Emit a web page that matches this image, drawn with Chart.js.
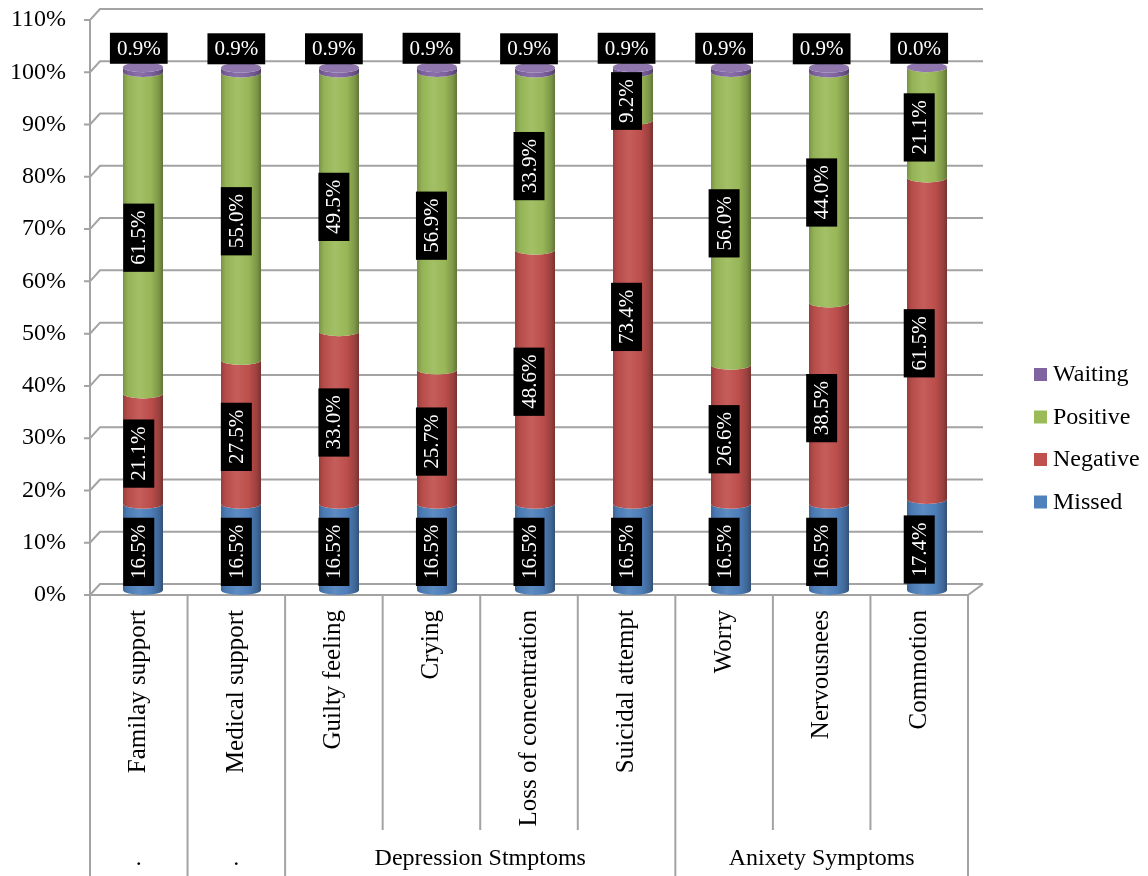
<!DOCTYPE html>
<html>
<head>
<meta charset="utf-8">
<script src="https://cdn.jsdelivr.net/npm/chart.js@4.4.1/dist/chart.umd.min.js"></script>
<style>
  html, body { margin: 0; padding: 0; background: #fff; }
</style>
</head>
<body>
<canvas id="chart" width="1148" height="876"></canvas>
<script>
const categories = ["Familay support", "Medical support", "Guilty feeling", "Crying",
  "Loss of concentration", "Suicidal attempt", "Worry", "Nervousnees", "Commotion"];
const groupLabels = [".", ".", "Depression Stmptoms", "Anixety Symptoms"];
const groupSpans = [1, 1, 4, 3];

const missed = [16.5, 16.5, 16.5, 16.5, 16.5, 16.5, 16.5, 16.5, 17.4];
const negative = [21.1, 27.5, 33.0, 25.7, 48.6, 73.4, 26.6, 38.5, 61.5];
const positive = [61.5, 55.0, 49.5, 56.9, 33.9, 9.2, 56.0, 44.0, 21.1];
const waiting = [0.9, 0.9, 0.9, 0.9, 0.9, 0.9, 0.9, 0.9, 0.0];

const seriesNames = ["Missed", "Negative", "Positive", "Waiting"];
const seriesColors = ["#4F81BD", "#C0504D", "#9BBB59", "#8064A2"];

const SERIF = "'Liberation Serif', 'Times New Roman', serif";
const LINE = "#a3a3a3";

function shade(hex, amt) {
  let r = parseInt(hex.slice(1, 3), 16);
  let g = parseInt(hex.slice(3, 5), 16);
  let b = parseInt(hex.slice(5, 7), 16);
  const f = c => amt < 0 ? Math.round(c * (1 + amt)) : Math.round(c + (255 - c) * amt);
  return "rgb(" + f(r) + "," + f(g) + "," + f(b) + ")";
}

function cylGradient(ctx, x, rx, hex) {
  const g = ctx.createLinearGradient(x - rx, 0, x + rx, 0);
  g.addColorStop(0, shade(hex, -0.22));
  g.addColorStop(0.12, shade(hex, -0.05));
  g.addColorStop(0.4, shade(hex, 0.08));
  g.addColorStop(0.7, shade(hex, -0.02));
  g.addColorStop(0.9, shade(hex, -0.2));
  g.addColorStop(1, shade(hex, -0.38));
  return g;
}

// back wall, floor and the table under the x axis
const wallPlugin = {
  id: "wall",
  beforeDatasetsDraw(chart) {
    const ctx = chart.ctx;
    const a = chart.chartArea;
    const y = chart.scales.y;
    const x = chart.scales.x;
    const backL = a.left + 10, backR = a.right + 15, dy = -11;
    ctx.save();
    ctx.strokeStyle = LINE;
    ctx.lineWidth = 2;
    y.ticks.forEach(t => {
      const py = y.getPixelForValue(t.value);
      ctx.beginPath();
      ctx.moveTo(a.left - 6, py);
      ctx.lineTo(a.left, py);
      ctx.lineTo(backL, py + dy);
      ctx.lineTo(backR, py + dy);
      ctx.stroke();
    });
    // floor
    ctx.beginPath();
    ctx.moveTo(a.left, a.bottom);
    ctx.lineTo(a.right, a.bottom);
    ctx.lineTo(backR, a.bottom + dy);
    ctx.stroke();
    // front left edge + table lines
    ctx.beginPath();
    ctx.moveTo(a.left, a.top);
    ctx.lineTo(a.left, chart.height);
    ctx.stroke();
    const catW = (a.right - a.left) / categories.length;
    const groupEdges = [0];
    groupSpans.forEach(s => groupEdges.push(groupEdges[groupEdges.length - 1] + s));
    for (let k = 1; k <= categories.length; k++) {
      const px = a.left + k * catW;
      const full = groupEdges.includes(k);
      ctx.beginPath();
      ctx.moveTo(px, a.bottom);
      ctx.lineTo(px, full ? chart.height : x.bottom);
      ctx.stroke();
    }
    // group labels
    ctx.fillStyle = "#000";
    ctx.font = "24px " + SERIF;
    ctx.textAlign = "center";
    ctx.textBaseline = "middle";
    groupLabels.forEach((lab, i) => {
      const cx = a.left + (groupEdges[i] + groupEdges[i + 1]) / 2 * catW;
      ctx.fillText(lab, cx, x.bottom + 29);
    });
    ctx.restore();
  }
};

const cylinderPlugin = {
  id: "cylinders",
  beforeDatasetDraw() {
    return false;
  },
  afterDatasetsDraw(chart) {
    const ctx = chart.ctx;
    const a = chart.chartArea;
    const n = chart.data.datasets.length;
    ctx.save();
    for (let j = 0; j < categories.length; j++) {
      for (let i = 0; i < n; i++) {
        const el = chart.getDatasetMeta(i).data[j];
        const x = el.x + 4 + 4 * (el.x - a.left) / (a.right - a.left);
        const top = el.y - 5, base = el.base - 5;
        const rx = el.width / 2, ry = 5;
        const col = seriesColors[i];
        ctx.beginPath();
        ctx.moveTo(x - rx, top);
        ctx.lineTo(x - rx, base);
        ctx.ellipse(x, base, rx, ry, 0, Math.PI, 0, true);
        ctx.lineTo(x + rx, top);
        ctx.ellipse(x, top, rx, ry, 0, 0, Math.PI, false);
        ctx.closePath();
        ctx.fillStyle = cylGradient(ctx, x, rx, col);
        ctx.fill();
        if (i === n - 1) {
          ctx.beginPath();
          ctx.ellipse(x, top, rx, ry, 0, 0, Math.PI * 2);
          ctx.fillStyle = shade(col, 0.12);
          ctx.fill();
        }
      }
    }
    // data labels
    ctx.font = "21px " + SERIF;
    ctx.textAlign = "center";
    ctx.textBaseline = "middle";
    for (let i = 0; i < n; i++) {
      const meta = chart.getDatasetMeta(i);
      const vals = chart.data.datasets[i].data;
      meta.data.forEach((el, j) => {
        const txt = vals[j].toFixed(1) + "%";
        const tw = ctx.measureText(txt).width + 14;
        const th = 31;
        ctx.save();
        if (i === n - 1) {
          ctx.translate(el.x, el.y - 24);
        } else {
          ctx.translate(el.x, (el.y + el.base) / 2);
          ctx.rotate(-Math.PI / 2);
        }
        ctx.fillStyle = "#000";
        ctx.fillRect(-tw / 2, -th / 2, tw, th);
        ctx.fillStyle = "#fff";
        ctx.fillText(txt, 0, 1);
        ctx.restore();
      });
    }
    // legend
    const lx = a.right + 66;
    let ly = chart.height / 2 - 64;
    ctx.font = "24px " + SERIF;
    ctx.textAlign = "left";
    for (let i = n - 1; i >= 0; i--) {
      ctx.fillStyle = seriesColors[i];
      ctx.fillRect(lx, ly - 6, 13, 13);
      ctx.fillStyle = "#000";
      ctx.fillText(seriesNames[i], lx + 19, ly + 1);
      ly += 42.5;
    }
    ctx.restore();
  }
};

const seriesData = [missed, negative, positive, waiting];

new Chart(document.getElementById("chart"), {
  type: "bar",
  data: {
    labels: categories,
    datasets: seriesNames.map((name, i) => ({
      label: name,
      data: seriesData[i],
      backgroundColor: seriesColors[i],
      barThickness: 40
    }))
  },
  options: {
    responsive: false,
    animation: false,
    layout: { padding: { top: 20, right: 180, bottom: 46, left: 0 } },
    plugins: {
      legend: { display: false },
      tooltip: { enabled: false }
    },
    scales: {
      x: {
        stacked: true,
        grid: { display: false, drawTicks: false },
        border: { display: false },
        ticks: {
          autoSkip: false,
          minRotation: 90,
          maxRotation: 90,
          padding: 15,
          color: "#000",
          font: { family: SERIF, size: 25 }
        },
        afterFit(scale) {
          scale.height = 235;
          scale.paddingLeft = 0;
          scale.paddingRight = 0;
        }
      },
      y: {
        stacked: true,
        min: 0,
        max: 110,
        grid: { display: false, drawTicks: false },
        border: { display: false },
        ticks: {
          stepSize: 10,
          padding: 24,
          color: "#000",
          font: { family: SERIF, size: 24 },
          callback: v => v + "%"
        },
        afterFit(scale) {
          scale.width = 90;
          scale.paddingTop = 0;
          scale.paddingBottom = 0;
        }
      }
    }
  },
  plugins: [wallPlugin, cylinderPlugin]
});
</script>
</body>
</html>
